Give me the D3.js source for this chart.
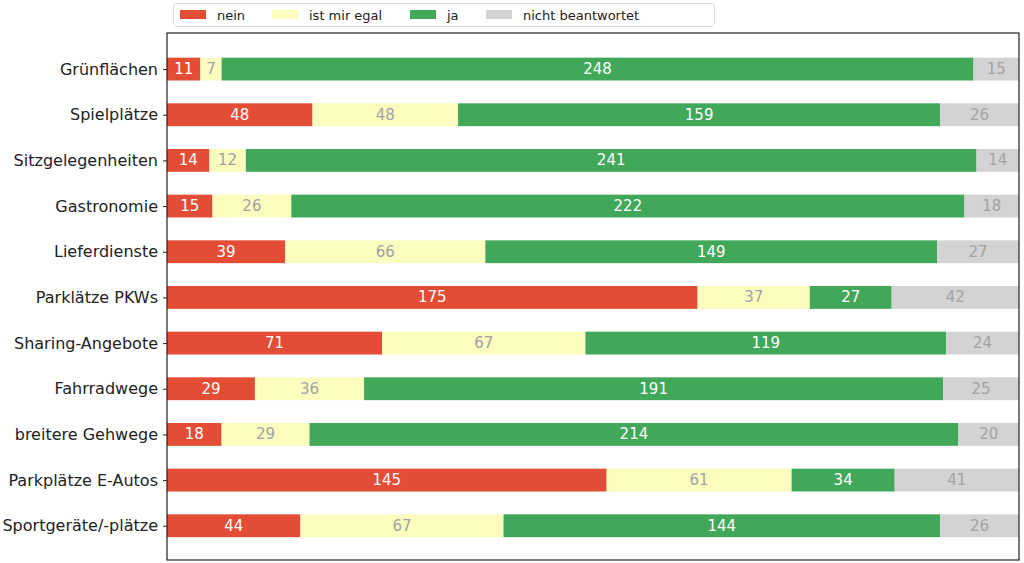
<!DOCTYPE html>
<html lang="de">
<head>
  <meta charset="UTF-8">
  <title>Umfrage</title>
  <script src="https://d3js.org/d3.v7.min.js"></script>
  <style>
    body { margin: 0; background: #fff; font-family: "DejaVu Sans", sans-serif; }
  </style>
</head>
<body>
<div id="chart"></div>
<script>
  const categories = ["Grünflächen", "Spielplätze", "Sitzgelegenheiten", "Gastronomie", "Lieferdienste",
    "Parklätze PKWs", "Sharing-Angebote", "Fahrradwege", "breitere Gehwege", "Parkplätze E-Autos", "Sportgeräte/-plätze"];
  const seriesNames = ["nein", "ist mir egal", "ja", "nicht beantwortet"];
  const nein = [11, 48, 14, 15, 39, 175, 71, 29, 18, 145, 44];
  const egal = [7, 48, 12, 26, 66, 37, 67, 36, 29, 61, 67];
  const ja = [248, 159, 241, 222, 149, 27, 119, 191, 214, 34, 144];
  const keine = [15, 26, 14, 18, 27, 42, 24, 25, 20, 41, 26];

  const colors = ["#e34d36", "#fdfcbf", "#41a85a", "#d3d3d3"];
  const textColors = ["#ffffff", "#a3a3a3", "#ffffff", "#a3a3a3"];
  const series = [nein, egal, ja, keine];

  const W = 1024, H = 563;
  const mLeft = 167, mRight = 1019, mTop = 33, mBottom = 560;

  const svg = d3.select("#chart").append("svg").attr("width", W).attr("height", H);

  const totals = categories.map((_, i) => d3.sum(series, s => s[i]));
  const x = d3.scaleLinear().domain([0, d3.max(totals)]).range([mLeft, mRight]);
  const y = d3.scaleLinear().domain([-0.79, categories.length - 1 + 0.75]).range([mTop, mBottom]);
  const barH = y(0.5) - y(0);

  categories.forEach((c, i) => {
    let acc = 0;
    series.forEach((s, k) => {
      const v = s[i];
      const g = svg.append("g");
      g.append("rect")
        .attr("x", x(acc)).attr("y", y(i) - barH / 2)
        .attr("width", x(acc + v) - x(acc)).attr("height", barH)
        .attr("fill", colors[k]);
      g.append("text")
        .attr("x", x(acc + v / 2)).attr("y", y(i))
        .attr("text-anchor", "middle").attr("dominant-baseline", "central")
        .attr("fill", textColors[k]).attr("font-size", 15)
        .text(v);
      acc += v;
    });
  });

  // frame
  svg.append("rect").attr("x", mLeft).attr("y", mTop)
    .attr("width", mRight - mLeft).attr("height", mBottom - mTop)
    .attr("fill", "none").attr("stroke", "#222").attr("stroke-width", 1.2);

  // y axis
  const yAxis = d3.axisLeft(y).tickValues(d3.range(categories.length))
    .tickFormat(i => categories[i]).tickSize(4).tickPadding(5);
  const ya = svg.append("g").attr("transform", `translate(${mLeft},0)`).call(yAxis);
  ya.select(".domain").remove();
  ya.selectAll("text").attr("font-size", 16).attr("font-family", "DejaVu Sans").attr("fill", "#222");
  ya.selectAll("line").attr("stroke", "#222");

  // legend
  const leg = svg.append("g");
  leg.append("rect").attr("x", 173.5).attr("y", 3.5).attr("width", 541).attr("height", 23)
    .attr("rx", 3).attr("fill", "#fff").attr("stroke", "#ddd");
  const legX = [180, 272, 410, 486];
  seriesNames.forEach((n, k) => {
    leg.append("rect").attr("x", legX[k]).attr("y", 10).attr("width", 26).attr("height", 9).attr("fill", colors[k]);
    leg.append("text").attr("x", legX[k] + 37).attr("y", 15).attr("dominant-baseline", "central")
      .attr("font-size", 13).attr("fill", "#222").text(n);
  });
</script>
</body>
</html>
